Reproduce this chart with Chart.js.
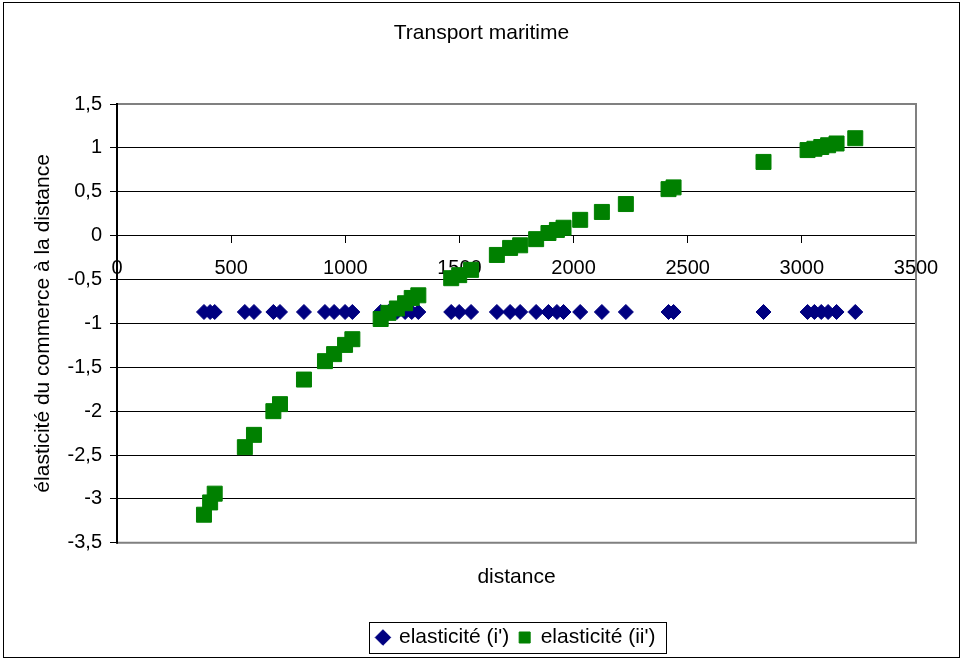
<!DOCTYPE html>
<html>
<head>
<meta charset="utf-8">
<script src="https://cdn.jsdelivr.net/npm/chart.js@4.4.1/dist/chart.umd.min.js"></script>
<style>
  html, body { margin: 0; padding: 0; background: #fff; }
  #wrap { position: relative; width: 963px; height: 661px; }
</style>
</head>
<body>
<div id="wrap"><canvas id="c" width="963" height="661"></canvas></div>
<script>
// Distances (km) shared by both series
const distances = [381, 408, 428, 560, 600, 685, 714, 819, 911, 951, 999, 1031,
  1155, 1189, 1226, 1262, 1291, 1320, 1464, 1499, 1551, 1664, 1722, 1766, 1836,
  1890, 1927, 1956, 2029, 2124, 2229, 2416, 2438, 2832, 3025, 3055, 3085, 3115,
  3152, 3234];

// Elasticity, specification (i')
const elasticiteI = [-0.87, -0.87, -0.87, -0.87, -0.87, -0.87, -0.87, -0.87,
  -0.87, -0.87, -0.87, -0.87, -0.87, -0.87, -0.87, -0.87, -0.87, -0.87, -0.87,
  -0.87, -0.87, -0.87, -0.87, -0.87, -0.87, -0.87, -0.87, -0.87, -0.87, -0.87,
  -0.87, -0.87, -0.87, -0.87, -0.87, -0.87, -0.87, -0.87, -0.87, -0.87];

// Elasticity, specification (ii')
const elasticiteII = [-3.18, -3.04, -2.94, -2.41, -2.27, -2.00, -1.92, -1.64,
  -1.43, -1.35, -1.245, -1.18, -0.95, -0.88, -0.83, -0.77, -0.71, -0.68, -0.485,
  -0.45, -0.39, -0.22, -0.14, -0.11, -0.04, 0.03, 0.065, 0.09, 0.18, 0.27, 0.36,
  0.53, 0.55, 0.84, 0.975, 0.99, 1.01, 1.03, 1.05, 1.11];

// Axis tick values
const xTickValues = [0, 500, 1000, 1500, 2000, 2500, 3000, 3500];
const yTickValues = [-3.5, -3, -2.5, -2, -1.5, -1, -0.5, 0, 0.5, 1, 1.5];

const FONT = "'Liberation Sans', Arial, Helvetica, sans-serif";
Chart.defaults.font.family = FONT;
Chart.defaults.font.size = 20;
Chart.defaults.color = '#000';

const toPoints = (ys) => distances.map((d, i) => ({ x: d, y: ys[i] }));
const frenchNumber = (v) => String(v).replace('.', ',');

// Outer frame, grey plot border and legend box
const framePlugin = {
  id: 'frames',
  beforeDraw(chart) {
    const ctx = chart.ctx;
    ctx.save();
    ctx.fillStyle = '#fff';
    ctx.fillRect(0, 0, chart.width, chart.height);
    ctx.strokeStyle = '#000';
    ctx.lineWidth = 1;
    ctx.strokeRect(3.5, 2.5, 956, 655);
    ctx.restore();
  },
  beforeDatasetsDraw(chart) {
    const { ctx, chartArea: a } = chart;
    ctx.save();
    ctx.strokeStyle = '#808080';
    ctx.lineWidth = 2;
    ctx.beginPath();
    ctx.moveTo(a.left, a.top);
    ctx.lineTo(a.right, a.top);
    ctx.lineTo(a.right, a.bottom);
    ctx.lineTo(a.left, a.bottom);
    ctx.stroke();
    ctx.strokeStyle = '#000';
    ctx.beginPath();
    ctx.moveTo(a.left, a.top - 1);
    ctx.lineTo(a.left, a.bottom + 1);
    ctx.stroke();
    ctx.restore();
  },
  afterDraw(chart) {
    const boxes = chart.legend && chart.legend.legendHitBoxes;
    if (!boxes || !boxes.length) return;
    const ctx = chart.ctx;
    const first = boxes[0], last = boxes[boxes.length - 1];
    const left = Math.round(first.left - 8) + 0.5;
    const right = Math.round(last.left + last.width + 10) + 0.5;
    const top = Math.round(first.top - 5) + 0.5;
    const bottom = Math.round(first.top + first.height + 5) + 0.5;
    ctx.save();
    ctx.strokeStyle = '#000';
    ctx.lineWidth = 1;
    ctx.strokeRect(left, top, right - left, bottom - top);
    ctx.restore();
  }
};

new Chart(document.getElementById('c'), {
  type: 'scatter',
  data: {
    datasets: [
      {
        label: "elasticité (i')",
        data: toPoints(elasticiteI),
        xAxisID: 'x', yAxisID: 'y',
        pointStyle: 'rectRot',
        radius: 7.5,
        backgroundColor: '#000080',
        borderColor: '#000080',
        borderWidth: 1,
        order: 1
      },
      {
        label: "elasticité (ii')",
        data: toPoints(elasticiteII),
        xAxisID: 'x', yAxisID: 'y',
        pointStyle: 'rect',
        radius: 10.6,
        backgroundColor: '#008000',
        borderColor: '#008000',
        borderWidth: 1,
        order: 0
      }
    ]
  },
  options: {
    responsive: false,
    animation: false,
    events: [],
    layout: { padding: { left: 0, right: 0, top: 0, bottom: 3 } },
    plugins: {
      title: {
        display: true,
        text: 'Transport maritime',
        color: '#000',
        font: { size: 21, weight: 'normal' },
        padding: { top: 20.4, bottom: 58.4 }
      },
      legend: {
        position: 'bottom',
        fullSize: false,
        labels: {
          usePointStyle: true,
          boxWidth: 11,
          boxHeight: 11,
          padding: 10,
          color: '#000',
          font: { size: 21 },
          sort: (a, b) => a.datasetIndex - b.datasetIndex
        }
      },
      tooltip: { enabled: false }
    },
    scales: {
      x: {
        type: 'linear',
        position: { y: 0 },
        min: 0, max: 3500,
        afterBuildTicks: (s) => { s.ticks = xTickValues.map((v) => ({ value: v })); },
        ticks: { padding: 14, maxRotation: 0, autoSkip: false, color: '#000', callback: (v) => String(v) },
        grid: { display: true, drawOnChartArea: false, drawTicks: true, tickLength: 7, color: '#000' },
        border: { display: true, color: '#000', width: 1 }
      },
      xTitle: {
        type: 'linear',
        axis: 'x',
        position: 'bottom',
        min: 0, max: 3500,
        ticks: { display: false },
        grid: { display: false, drawTicks: false },
        border: { display: false },
        title: { display: true, text: 'distance', color: '#000', font: { size: 21 }, padding: { top: 22, bottom: 27 } }
      },
      y: {
        type: 'linear',
        position: 'left',
        min: -3.5, max: 1.5,
        afterBuildTicks: (s) => { s.ticks = yTickValues.map((v) => ({ value: v })); },
        afterFit: (s) => { s.width = 117; },
        ticks: { padding: 8, color: '#000', callback: (v) => frenchNumber(v) },
        grid: { color: '#000', lineWidth: 1, drawTicks: true, tickLength: 7 },
        border: { display: true, color: '#000', width: 2 },
        title: {
          display: true,
          text: 'élasticité du commerce à la distance',
          color: '#000',
          font: { size: 21 },
          padding: { top: 30.4, bottom: 0 }
        }
      },
      yRight: {
        type: 'linear',
        axis: 'y',
        position: 'right',
        min: -3.5, max: 1.5,
        ticks: { display: false },
        grid: { display: false, drawTicks: false },
        border: { display: false },
        afterFit: (s) => { s.width = 47; }
      }
    }
  },
  plugins: [framePlugin]
});
</script>
</body>
</html>
